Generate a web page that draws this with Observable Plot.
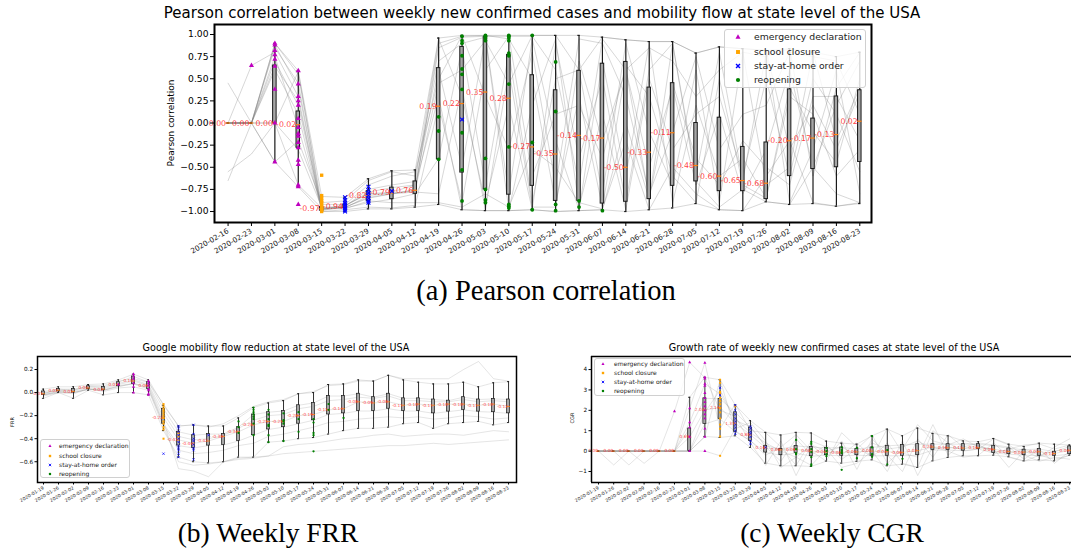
<!DOCTYPE html>
<html><head><meta charset="utf-8">
<script src="https://cdn.jsdelivr.net/npm/d3@7"></script>
<script src="https://cdn.jsdelivr.net/npm/@observablehq/plot@0.6"></script>
<style>
body{margin:0;background:#fff;}
#root{position:relative;width:1071px;height:550px;overflow:hidden;font-family:"DejaVu Sans",sans-serif;background:#fff;}
.abs{position:absolute;}
.ctr{position:absolute;transform:translate(-50%,-50%);white-space:nowrap;line-height:1;color:#000;}
.cap{font-family:"Liberation Serif","DejaVu Serif",serif;}
.ylab{position:absolute;transform:translate(-50%,-50%) rotate(-90deg);white-space:nowrap;line-height:1;}
.leg{position:absolute;background:rgba(255,255,255,0.8);border:1px solid #d0d0d0;border-radius:3px;box-sizing:border-box;}
.leg span{position:absolute;white-space:nowrap;line-height:1;transform:translateY(-50%);color:#222;}
.leg svg{position:absolute;overflow:visible;}
</style></head>
<body><div id="root"></div>
<script>
// ---------- tick labels ----------
const weeksA = ["2020-02-16","2020-02-23","2020-03-01","2020-03-08","2020-03-15","2020-03-22","2020-03-29","2020-04-05","2020-04-12","2020-04-19","2020-04-26","2020-05-03","2020-05-10","2020-05-17","2020-05-24","2020-05-31","2020-06-07","2020-06-14","2020-06-21","2020-06-28","2020-07-05","2020-07-12","2020-07-19","2020-07-26","2020-08-02","2020-08-09","2020-08-16","2020-08-23"];
const weeksBC = ["2020-01-19","2020-01-26","2020-02-02","2020-02-09","2020-02-16","2020-02-23","2020-03-01","2020-03-08","2020-03-15","2020-03-22","2020-03-29","2020-04-05","2020-04-12","2020-04-19","2020-04-26","2020-05-03","2020-05-10","2020-05-17","2020-05-24","2020-05-31","2020-06-07","2020-06-14","2020-06-21","2020-06-28","2020-07-05","2020-07-12","2020-07-19","2020-07-26","2020-08-02","2020-08-09","2020-08-16","2020-08-23"];

// ---------- (a) Pearson correlation: box statistics per week ----------
const aLow  = [0,0,-0.44,-0.72,-1.0,-1.0,-0.97,-0.97,-0.95,-0.92,-0.98,-0.99,-0.99,-0.98,-1.0,-0.99,-0.98,-1.0,-0.98,-0.96,-0.91,-0.98,-0.99,-0.89,-0.92,-0.91,-0.94,-0.91];
const aQ1   = [0,0,0,-0.28,-0.99,-0.96,-0.88,-0.86,-0.80,-0.41,-0.56,-0.75,-0.81,-0.71,-0.88,-0.88,-0.91,-0.89,-0.86,-0.71,-0.66,-0.77,-0.77,-0.86,-0.60,-0.52,-0.50,-0.44];
const aMed  = [0,0,0,-0.02,-0.97,-0.94,-0.82,-0.79,-0.76,0.19,0.22,0.35,0.28,-0.27,-0.35,-0.14,-0.17,-0.50,-0.33,-0.11,-0.48,-0.60,-0.65,-0.68,-0.20,-0.17,-0.13,0.02];
const aQ3   = [0,0,0.65,0.13,-0.95,-0.92,-0.77,-0.73,-0.66,0.62,0.86,0.97,0.77,0.54,0.37,0.59,0.67,0.69,0.40,0.45,0.0,0.06,-0.27,-0.22,0.38,0.05,0.30,0.37];
const aHigh = [0,0,0.90,0.59,-0.83,-0.84,-0.63,-0.54,-0.53,0.96,0.99,0.99,0.99,0.99,0.99,0.99,0.97,0.94,0.92,0.92,0.79,0.86,0.84,0.82,0.84,0.80,0.75,0.80];
const aStates = [
 [0,0,0.85,0.45,-0.97,-0.95,-0.85,-0.8,-0.75,0.9,0.98,0.99,0.95,0.5,-0.9,0.3,-0.95,0.6,-0.5,0.4,-0.7,0.1,-0.8,-0.3,0.6,-0.5,0.2,0.7],
 [0,0,0.7,0.2,-0.98,-0.93,-0.8,-0.78,-0.7,0.6,-0.5,0.97,-0.8,0.95,-0.2,-0.98,0.7,-0.6,0.9,-0.9,0.2,-0.6,-0.4,-0.85,0.3,0.1,-0.6,-0.3],
 [0,0,0,-0.3,-0.95,-0.96,-0.9,-0.86,-0.8,-0.4,0.85,-0.7,0.8,-0.9,0.5,0.6,-0.8,0.9,-0.1,-0.7,0.6,-0.9,0.8,-0.7,-0.5,0.8,-0.2,0.4],
 [0.45,0,0.6,0.1,-0.99,-0.94,-0.75,-0.7,-0.66,0.95,0.3,-0.9,0.2,-0.98,0.9,-0.4,0.5,-0.9,0.6,0.9,-0.6,0.8,-0.65,0.8,-0.9,-0.3,0.6,-0.8],
 [-0.55,-0.35,0,-0.7,-0.96,-0.97,-0.88,-0.9,-0.9,-0.9,-0.95,-0.8,-0.95,-0.3,-0.5,-0.9,-0.97,-0.2,-0.98,-0.5,-0.8,-0.98,-0.99,-0.6,-0.2,-0.9,-0.94,-0.9],
 [-0.65,0,0.9,0.55,-0.92,-0.92,-0.7,-0.6,-0.55,0.5,0.99,0.3,-0.3,0.8,-0.7,0.95,0.9,0.3,-0.8,-0.1,0.75,-0.3,0.1,0.2,0.8,0.75,0.7,0.1],
 [0,0.65,0.8,0.3,-1.0,-0.98,-0.95,-0.96,-0.93,0.2,-0.9,0.6,0.98,-0.6,0.1,0.2,-0.4,0.65,0.3,-0.6,-0.9,0.5,-0.7,-0.85,0.4,-0.1,-0.45,0.5],
 [0,0,-0.44,-0.2,-0.9,-0.88,-0.65,-0.55,-0.6,0.7,0.9,0.97,-0.98,0.2,0.95,-0.95,0.1,-0.98,0.5,-0.3,0.1,0.3,-0.6,0.5,-0.6,0.5,0.1,-0.55],
 [0,0,0.75,-0.05,-0.97,-0.95,-0.84,-0.8,-0.78,-0.8,0.4,-0.98,0.6,-0.95,-0.95,0.7,-0.2,0.6,-0.85,0.45,-0.4,-0.7,-0.2,-0.5,-0.7,0.3,0.3,-0.2],
 [0,0,0.88,0.4,-0.98,-0.96,-0.82,-0.79,-0.77,0.85,0.97,0.98,0.98,0.98,0.6,-0.7,0.95,0.6,0.85,0.7,0.3,0.6,0.8,0.75,0.84,-0.6,0.4,0.8],
 [0,0,0,0.58,-0.97,-0.94,-0.78,-0.73,-0.7,0.3,-0.98,-0.99,-0.99,-0.98,-1.0,-0.99,-0.98,0.0,-0.86,0.9,-0.66,-0.95,-0.75,-0.89,-0.92,-0.5,-0.8,-0.9],
 [0,0,0.64,0.25,-0.96,-0.93,-0.8,-0.8,-0.76,0.45,0.6,0.93,0.44,0.99,0.99,0.6,0.97,0.94,0.92,0.92,0.79,0.86,0.84,0.82,-0.3,0.2,-0.3,0.35]
];
const aEmergency = [[1,0.65],[2,0.9],[2,0.88],[2,0.82],[2,0.77],[2,0.72],[2,0.64],[2,0.38],[2,0.0],[2,-0.44],[3,0.59],[3,0.44],[3,0.30],[3,0.25],[3,0.2],[3,0.05],[3,-0.05],[3,-0.12],[3,-0.15],[3,-0.22],[3,-0.28],[3,-0.42],[3,-0.47],[3,-0.7],[3,-0.72],[3,-0.92]];
const aSchool = [[4,-0.59],[4,-0.82],[4,-0.85],[4,-0.88],[4,-0.9],[4,-0.93],[4,-0.95],[4,-0.97],[4,-0.98],[4,-1.0]];
const aStay = [[5,-0.84],[5,-0.87],[5,-0.9],[5,-0.92],[5,-0.94],[5,-0.96],[5,-0.98],[5,-1.0],[6,-0.72],[6,-0.76],[6,-0.79],[6,-0.82],[6,-0.85],[6,-0.88],[6,-0.9],[7,-0.77],[10,0.04]];
const aReopen = [[9,0.07],[9,-0.09],[9,-0.41],[10,0.98],[10,0.93],[10,0.9],[10,0.76],[10,0.61],[10,0.55],[10,0.38],[10,-0.11],[10,-0.53],[10,-0.88],[11,0.99],[11,0.98],[11,0.96],[11,0.93],[11,-0.4],[11,-0.75],[11,-0.87],[11,-0.9],[12,0.99],[12,0.98],[12,0.96],[12,0.93],[12,0.79],[12,0.76],[12,0.44],[12,-0.27],[12,-0.92],[12,-0.94],[12,-0.96],[13,0.99],[13,-0.22],[13,-0.98],[14,0.69],[14,0.13],[14,-0.92],[14,-0.99],[15,-0.88],[15,-0.95],[16,-0.99]];

// ---------- (b) Weekly FRR ----------
const bLow  = [-0.05,0.0,-0.05,0.02,-0.02,0.0,0.0,-0.02,-0.33,-0.56,-0.60,-0.61,-0.60,-0.56,-0.56,-0.43,-0.42,-0.40,-0.39,-0.36,-0.33,-0.31,-0.31,-0.30,-0.27,-0.26,-0.31,-0.27,-0.26,-0.25,-0.28,-0.26];
const bQ1   = [-0.02,0.01,0.0,0.03,0.02,0.055,0.075,0.03,-0.27,-0.46,-0.48,-0.46,-0.455,-0.42,-0.37,-0.32,-0.30,-0.27,-0.24,-0.19,-0.18,-0.16,-0.16,-0.14,-0.16,-0.16,-0.18,-0.165,-0.15,-0.165,-0.17,-0.18];
const bMed  = [-0.01,0.02,0.01,0.04,0.03,0.07,0.10,0.06,-0.22,-0.41,-0.44,-0.42,-0.38,-0.34,-0.28,-0.25,-0.25,-0.20,-0.19,-0.15,-0.14,-0.08,-0.09,-0.08,-0.11,-0.10,-0.11,-0.10,-0.10,-0.11,-0.10,-0.12];
const bQ3   = [0.01,0.03,0.03,0.055,0.05,0.09,0.14,0.09,-0.14,-0.34,-0.37,-0.36,-0.36,-0.30,-0.19,-0.17,-0.16,-0.11,-0.09,-0.03,-0.03,-0.01,-0.04,-0.01,-0.05,-0.05,-0.06,-0.07,-0.04,-0.06,-0.055,-0.06];
const bHigh = [0.03,0.05,0.05,0.07,0.075,0.11,0.16,0.11,-0.11,-0.29,-0.28,-0.29,-0.29,-0.22,-0.13,-0.09,-0.07,-0.01,0.0,0.07,0.075,0.11,0.10,0.15,0.11,0.09,0.075,0.075,0.09,0.05,0.085,0.095];
const bStates = [
 [-0.02,0.0,-0.01,0.03,0.02,0.06,0.08,0.05,-0.25,-0.66,-0.68,-0.73,-0.6,-0.57,-0.56,-0.55,-0.53,-0.52,-0.51,-0.5,-0.49,-0.48,-0.47,-0.46,-0.46,-0.45,-0.44,-0.45,-0.44,-0.43,-0.42,-0.41],
 [-0.03,0.0,0.0,0.03,0.01,0.04,0.05,0.02,-0.3,-0.6,-0.63,-0.62,-0.6,-0.58,-0.57,-0.55,-0.47,-0.45,-0.44,-0.42,-0.4,-0.39,-0.37,-0.36,-0.38,-0.37,-0.36,-0.36,-0.37,-0.35,-0.33,-0.34],
 [-0.01,0.03,0.02,0.06,0.06,0.1,0.12,0.09,-0.1,-0.29,-0.28,-0.3,-0.27,-0.2,-0.12,-0.08,-0.06,-0.01,0.01,0.06,0.07,0.1,0.1,0.15,0.12,0.12,0.12,0.12,0.2,0.27,0.12,0.1],
 [0.0,0.02,0.02,0.05,0.04,0.08,0.11,0.07,-0.18,-0.38,-0.41,-0.4,-0.37,-0.31,-0.24,-0.2,-0.19,-0.14,-0.12,-0.07,-0.06,-0.04,-0.05,-0.03,-0.07,-0.07,-0.08,-0.08,-0.06,-0.08,-0.07,-0.08],
 [-0.02,0.01,0.0,0.03,0.02,0.05,0.08,0.04,-0.28,-0.5,-0.53,-0.52,-0.5,-0.46,-0.44,-0.38,-0.36,-0.33,-0.3,-0.26,-0.25,-0.23,-0.22,-0.21,-0.22,-0.21,-0.23,-0.22,-0.2,-0.21,-0.23,-0.22]
];
const bEmergency = [[5,0.07],[6,0.16],[6,0.14],[6,0.12],[6,0.08],[6,0.05],[6,0.0],[7,0.10],[7,0.08],[7,0.06],[7,0.03],[7,0.02],[7,-0.01],[7,-0.02]];
const bSchool = [[8,-0.1],[8,-0.12],[8,-0.14],[8,-0.16],[8,-0.18],[8,-0.2],[8,-0.22],[8,-0.25],[8,-0.27],[8,-0.3],[8,-0.32],[8,-0.4],[9,-0.35],[9,-0.38]];
const bStay = [[8,-0.53],[9,-0.29],[9,-0.31],[9,-0.34],[9,-0.37],[9,-0.4],[9,-0.43],[9,-0.46],[9,-0.48],[9,-0.5],[9,-0.53],[9,-0.56],[10,-0.28],[10,-0.36],[10,-0.4],[10,-0.42],[10,-0.45],[10,-0.48],[10,-0.5],[10,-0.58],[11,-0.37]];
const bReopen = [[13,-0.25],[13,-0.3],[13,-0.35],[14,-0.13],[14,-0.15],[14,-0.17],[14,-0.19],[14,-0.21],[14,-0.23],[14,-0.27],[14,-0.37],[15,-0.15],[15,-0.19],[15,-0.23],[15,-0.28],[15,-0.29],[15,-0.37],[15,-0.43],[16,-0.18],[16,-0.24],[16,-0.25],[16,-0.27],[16,-0.42],[17,-0.17],[17,-0.23],[17,-0.34],[18,-0.23],[18,-0.26],[18,-0.35],[18,-0.37],[18,-0.51],[19,-0.10],[19,-0.15],[20,-0.22]];

// ---------- (c) Weekly CGR ----------
const cLow  = [0,0,0,0,0,0,0,0.72,0.67,0.75,0.18,-0.59,-0.72,-0.72,-0.75,-0.49,-0.59,-0.5,-0.43,-0.72,-0.64,-0.8,-0.48,-0.31,-0.23,-0.23,-0.2,-0.28,-0.48,-0.43,-0.48,-0.2];
const cQ1   = [0,0,0,0,0,0,0,1.33,1.57,0.95,0.5,-0.07,-0.2,-0.1,-0.25,-0.2,-0.23,-0.2,-0.23,-0.23,-0.23,-0.2,0.05,0.05,0.02,0.1,-0.1,-0.15,-0.2,-0.23,-0.23,-0.15];
const cMed  = [0,0,0,0,0,0,0.69,2.02,2.14,1.37,0.80,0.16,0.06,0.08,0.00,-0.04,-0.06,-0.04,0.00,-0.03,-0.06,0.02,0.20,0.16,0.15,0.16,0.09,-0.02,-0.05,-0.03,-0.12,0.04];
const cQ3   = [0,0,0,0,0,0,1.11,2.59,2.56,1.9,1.16,0.26,0.1,0.25,0.2,0.15,0.18,0.1,0.18,0.26,0.3,0.34,0.34,0.34,0.34,0.34,0.26,0.13,0.07,0.1,-0.03,0.23];
const cHigh = [0,0,0,0,0,0,2.64,3.62,3.5,2.26,1.49,0.92,0.79,0.92,0.89,0.49,0.39,0.34,0.75,1.08,0.75,1.13,0.87,0.75,0.5,0.46,0.62,0.34,0.23,0.39,0.34,0.3];
const cStates = [
 [0,-0.68,0,0,0,0,0,1.9,3.0,1.5,1.2,0.2,-0.5,0.6,-0.2,0.3,-0.4,0.1,0.8,-0.6,0.1,1.3,0.5,0.3,0.6,0.2,0.1,-0.8,0.0,-0.3,0.2,0.6],
 [0,0,-0.68,0,0,1.95,4.35,3.6,2.0,1.7,0.4,-0.7,0.5,-1.2,0.3,-0.3,0.5,-0.9,0.6,-0.2,-1.0,0.6,-0.3,0.8,0.2,0.4,0.3,0.2,-0.4,0.1,-0.6,0.0],
 [0,0,0,0,0,0,2.1,4.33,1.1,2.3,1.0,0.9,0.2,0.8,0.0,-0.5,0.9,0.2,-0.3,0.4,-0.6,-0.8,1.0,0.4,0.0,0.1,0.6,0.3,-0.2,-0.5,-0.3,-0.4],
 [0,0,0,-0.6,0,0,0,0.7,3.5,1.0,0.5,-0.2,0.2,-0.7,0.5,0.2,-0.2,0.4,-0.3,1.1,-0.1,-0.3,1.3,-0.2,0.4,0.3,-0.1,0.1,0.3,0.35,0.1,0.3],
 [0,0,0,0,0,0,0,0,-0.23,1.1,1.4,0.5,-0.8,-0.3,-0.7,0.1,-0.8,-0.6,0.0,-1.0,0.5,-1.2,0.2,0.0,-0.3,-0.2,0.4,-0.3,-0.5,-0.2,-0.4,-0.2],
 [0,0,0,0,0,0,1.4,3.3,2.8,1.6,0.9,0.4,0.0,-0.3,0.3,0.0,0.2,-0.2,0.4,0.1,0.2,0.5,0.1,0.2,0.1,0.3,0.0,-0.1,0.1,-0.2,0.0,0.1]
];
const cEmergency = [[5,1.95],[6,4.35],[6,2.1],[6,1.41],[6,1.16],[6,0.7],[6,0.0],[7,4.33],[7,3.62],[7,3.55],[7,3.3],[7,3.2],[7,2.85],[7,2.6],[7,2.4],[7,2.2],[7,2.0],[7,1.8],[7,1.6],[7,1.1],[7,0.7],[7,0.0]];
const cSchool = [[8,3.5],[8,3.35],[8,2.9],[8,2.8],[8,2.6],[8,2.45],[8,2.3],[8,2.1],[8,1.9],[8,1.6],[8,1.3],[8,1.1],[8,0.72],[8,-0.23],[9,2.2]];
const cStay = [[8,3.1],[8,2.75],[9,2.25],[9,2.0],[9,1.8],[9,1.6],[9,1.45],[9,1.3],[9,1.15],[9,1.0],[9,0.85],[10,1.2],[10,1.1],[10,0.95],[10,0.85],[10,0.7],[10,0.5],[10,0.35],[11,0.18]];
const cReopen = [[13,0.55],[13,0.1],[13,-0.1],[13,-0.15],[14,0.45],[14,0.35],[14,0.1],[14,-0.05],[14,-0.3],[14,-0.65],[14,-0.72],[15,0.15],[15,0.0],[15,-0.15],[15,-0.25],[16,0.18],[16,0.05],[16,-0.05],[16,-0.1],[16,-0.92],[17,0.16],[17,-0.35],[18,0.73],[18,0.18],[18,-0.15],[18,-0.28],[19,0.05],[19,-0.65],[20,-0.38]];

const legendItems = ["emergency declaration","school closure","stay-at-home order","reopening"];
const colMag = "#bf00bf", colOra = "#ffa500", colBlue = "#0000ff", colGreen = "#008000";

// ---------- chart builder ----------
function panel(o) {
  const n = o.labels.length;
  const stats = o.med.map((m, i) => ({i, lo: o.lo[i], q1: o.q1[i], med: m, q3: o.q3[i], hi: o.hi[i]}));
  const series = o.states.concat(o.extraLines);
  const lines = series.flatMap((s, k) => s.map((v, i) => ({k, i, v})));
  const ev = (arr) => arr.map(([i, v]) => ({i, v}));
  const hw = o.boxHalf, cap = o.capHalf;
  const frameMarks = o.openRight
    ? [Plot.ruleX([o.xDomain[0]], {stroke: "#000", strokeWidth: o.frameW}),
       Plot.ruleY([o.yDomain[0], o.yDomain[1]], {stroke: "#000", strokeWidth: o.frameW})]
    : [Plot.frame({stroke: "#000", strokeWidth: o.frameW})];
  return Plot.plot({
    width: o.width, height: o.height,
    marginLeft: o.ml, marginRight: o.mr, marginTop: o.mt, marginBottom: o.mb,
    x: {type: "linear", domain: o.xDomain},
    y: {type: "linear", domain: o.yDomain},
    style: {fontFamily: "DejaVu Sans", background: "transparent", overflow: "visible", color: "#000"},
    marks: [
      Plot.line(lines, {x: "i", y: "v", z: "k", stroke: "#808080", strokeOpacity: o.lineOp, strokeWidth: o.lineW, curve: "linear"}),
      Plot.ruleX(stats, {x: "i", y1: "lo", y2: "hi", stroke: "#1a1a1a", strokeWidth: o.whiskW}),
      Plot.ruleY(stats, {y: "lo", x1: d => d.i - cap, x2: d => d.i + cap, stroke: "#1a1a1a", strokeWidth: o.whiskW}),
      Plot.ruleY(stats, {y: "hi", x1: d => d.i - cap, x2: d => d.i + cap, stroke: "#1a1a1a", strokeWidth: o.whiskW}),
      Plot.rect(stats, {x1: d => d.i - hw, x2: d => d.i + hw, y1: "q1", y2: "q3", fill: "#a6a6a6", stroke: "#1a1a1a", strokeWidth: o.boxW}),
      Plot.ruleY(stats, {y: "med", x1: d => d.i - hw * 1.3, x2: d => d.i + hw * 1.3, stroke: "#ff7f0e", strokeWidth: o.medW}),
      Plot.text(stats, {x: "i", y: "med", text: d => d.med.toFixed(2), textAnchor: "end", dx: -o.labelGap, fill: "#ff2020", fillOpacity: 0.85, fontSize: o.labelSize}),
      Plot.dot(ev(o.emergency), {x: "i", y: "v", symbol: "triangle", fill: colMag, r: o.dotR}),
      Plot.dot(ev(o.school), {x: "i", y: "v", symbol: "square", fill: colOra, r: o.dotR}),
      Plot.dot(ev(o.stay), {x: "i", y: "v", symbol: "times", stroke: colBlue, strokeWidth: o.dotR * 0.6, r: o.dotR}),
      Plot.dot(ev(o.reopen), {x: "i", y: "v", symbol: "circle", fill: colGreen, r: o.dotR}),
      Plot.axisX({ticks: d3.range(n), tickFormat: i => o.labels[i], tickRotate: -30, fontSize: o.xFont, tickSize: o.tickSize, tickPadding: o.tickPad, label: null, fill: "#222"}),
      Plot.axisY({ticks: o.yTicks, tickFormat: o.yFormat, fontSize: o.yFont, tickSize: o.tickSize, tickPadding: 2, label: null}),
      ...frameMarks
    ]
  });
}

function legendBox(x, y, w, h, fs, rows, mx, tx, ms) {
  const d = document.createElement("div");
  d.className = "leg";
  Object.assign(d.style, {left: x + "px", top: y + "px", width: w + "px", height: h + "px", fontSize: fs + "px"});
  const shapes = [
    `<polygon points="0,${-ms} ${ms*0.9},${ms*0.6} ${-ms*0.9},${ms*0.6}" fill="${colMag}"/>`,
    `<rect x="${-ms*0.7}" y="${-ms*0.7}" width="${ms*1.4}" height="${ms*1.4}" fill="${colOra}"/>`,
    `<path d="M${-ms*0.7},${-ms*0.7}L${ms*0.7},${ms*0.7}M${-ms*0.7},${ms*0.7}L${ms*0.7},${-ms*0.7}" stroke="${colBlue}" stroke-width="${ms*0.5}"/>`,
    `<circle r="${ms*0.75}" fill="${colGreen}"/>`
  ];
  let html = "";
  legendItems.forEach((t, k) => {
    html += `<svg width="1" height="1" style="left:${mx}px;top:${rows[k]}px"><g>${shapes[k]}</g></svg>`;
    html += `<span style="left:${tx}px;top:${rows[k]}px">${t}</span>`;
  });
  d.innerHTML = html;
  return d;
}

function place(el, left, top) {
  const w = document.createElement("div");
  w.className = "abs";
  w.style.left = left + "px"; w.style.top = top + "px";
  w.appendChild(el);
  return w;
}
function text(cls, txt, cx, cy, fs, extra) {
  const d = document.createElement("div");
  d.className = cls;
  d.textContent = txt;
  Object.assign(d.style, {left: cx + "px", top: cy + "px", fontSize: fs + "px"}, extra || {});
  return d;
}

const root = document.getElementById("root");

// Panel (a)
const chartA = panel({
  labels: weeksA, lo: aLow, q1: aQ1, med: aMed, q3: aQ3, hi: aHigh,
  states: aStates, extraLines: [aLow, aHigh],
  emergency: aEmergency, school: aSchool, stay: aStay, reopen: aReopen,
  width: 1071, height: 270, ml: 214, mr: 200, mt: 24, mb: 48,
  xDomain: [-0.58, 27.5], yDomain: [-1.124, 1.113],
  yTicks: [-1, -0.75, -0.5, -0.25, 0, 0.25, 0.5, 0.75, 1], yFormat: d3.format(".2f"),
  boxHalf: 0.075, capHalf: 0.05, lineOp: 0.4, lineW: 0.8, whiskW: 1.2, boxW: 1, medW: 1.2,
  labelGap: 2, labelSize: 7.8, dotR: 1.9, xFont: 7.3, yFont: 9.2, tickSize: 4, tickPad: 4, frameW: 2
});
root.appendChild(place(chartA, 0, 0));

// Panel (b)
const chartB = panel({
  labels: weeksBC, lo: bLow, q1: bQ1, med: bMed, q3: bQ3, hi: bHigh,
  states: bStates, extraLines: [bLow, bQ1, bMed, bQ3, bHigh],
  emergency: bEmergency, school: bSchool, stay: bStay, reopen: bReopen,
  width: 530, height: 170, ml: 37, mr: 14, mt: 16, mb: 28,
  xDomain: [-0.4, 31.53], yDomain: [-0.78, 0.313],
  yTicks: [-0.6, -0.4, -0.2, 0, 0.2], yFormat: d3.format(".1f"),
  boxHalf: 0.1, capHalf: 0.07, lineOp: 0.35, lineW: 0.6, whiskW: 0.9, boxW: 0.7, medW: 0.8,
  labelGap: 0.5, labelSize: 4.3, dotR: 1.15, xFont: 4.6, yFont: 5.7, tickSize: 2.5, tickPad: 2.5, frameW: 1.5
});
root.appendChild(place(chartB, 0, 340));

// Panel (c)
const chartC = panel({
  labels: weeksBC, lo: cLow, q1: cQ1, med: cMed, q3: cQ3, hi: cHigh,
  states: cStates, extraLines: [cLow, cQ1, cMed, cQ3, cHigh],
  emergency: cEmergency, school: cSchool, stay: cStay, reopen: cReopen,
  width: 516, height: 170, ml: 36, mr: 0, mt: 16, mb: 28,
  xDomain: [-0.46, 31.12], yDomain: [-1.54, 4.64], openRight: true,
  yTicks: [-1, 0, 1, 2, 3, 4], yFormat: d3.format("d"),
  boxHalf: 0.1, capHalf: 0.07, lineOp: 0.35, lineW: 0.6, whiskW: 0.9, boxW: 0.7, medW: 0.8,
  labelGap: 0.5, labelSize: 4.3, dotR: 1.15, xFont: 4.6, yFont: 5.7, tickSize: 2.5, tickPad: 2.5, frameW: 1.5
});
root.appendChild(place(chartC, 555, 340));

// Titles
root.appendChild(text("ctr", "Pearson correlation between weekly new confirmed cases and mobility flow at state level of the USA", 542, 13, 15));
root.appendChild(text("ctr", "Google mobility flow reduction at state level of the USA", 276, 348, 9.6));
root.appendChild(text("ctr", "Growth rate of weekly new confirmed cases at state level of the USA", 834, 348, 9.6));

// Y axis labels
root.appendChild(text("ylab", "Pearson correlation", 171, 123, 9));
root.appendChild(text("ylab", "FRR", 12, 422, 5));
root.appendChild(text("ylab", "CGR", 572, 418, 5));

// Legends
root.appendChild(legendBox(724, 29, 142, 59, 9.3, [7, 21.5, 35.5, 50], 13, 29, 2.8));
root.appendChild(legendBox(40, 439, 90, 39, 6, [6, 15.5, 24.7, 34], 9, 18, 1.7));
root.appendChild(legendBox(594, 358, 91, 38, 6, [5, 14, 23, 32], 8, 19, 1.7));

// Captions
root.appendChild(text("ctr cap", "(a) Pearson correlation", 546, 291, 28.5));
root.appendChild(text("ctr cap", "(b) Weekly FRR", 268, 533, 27.5));
root.appendChild(text("ctr cap", "(c) Weekly CGR", 832, 533, 27.5));
</script>
</body></html>
